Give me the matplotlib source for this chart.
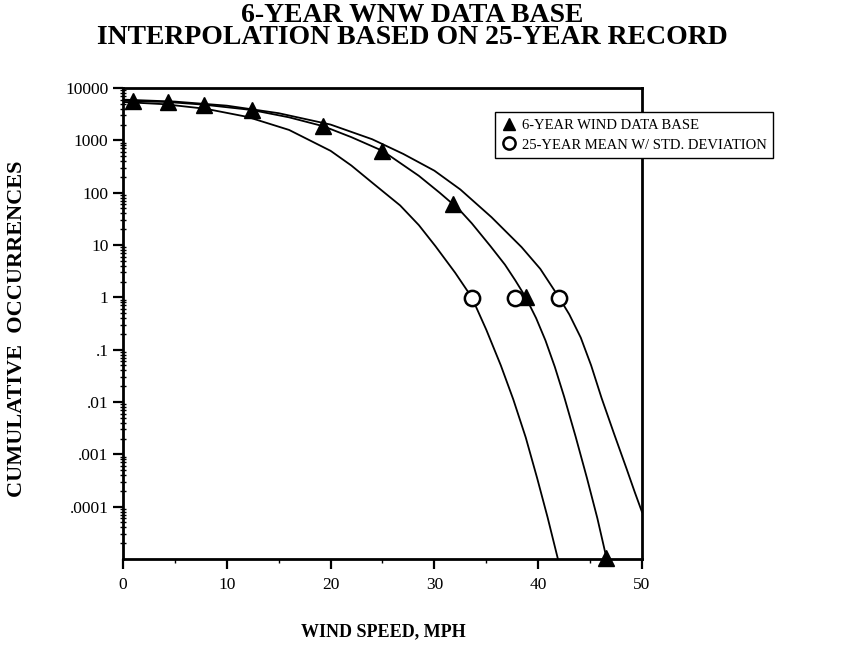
import matplotlib
matplotlib.use("Agg")
import matplotlib.pyplot as plt
from matplotlib.ticker import FixedLocator, NullFormatter

# ---- data ----
tri_x = [1.0, 4.3, 7.8, 12.4, 19.3, 25.0, 31.8, 38.8, 46.5]
tri_y = [5600, 5400, 4800, 3800, 1860, 630, 60, 1.0, 1.05e-5]

circ_x = [33.6, 37.8, 42.0]
circ_y = [0.95, 0.95, 0.95]

left_x = [0, 4, 8, 12, 16, 20, 22, 24.1, 26.7, 28.5, 30.1, 32, 33.6, 35, 36.4, 37.6, 38.8, 39.9, 40.9, 41.9]
left_y = [5400, 4900, 4000, 2800, 1580, 630, 330, 150, 57, 24, 9.5, 2.95, 1.0,
          0.24, 0.05, 0.0112, 0.0021, 3.5e-4, 6.3e-5, 1.0e-5]

mid_x = [0, 1, 4.3, 7.8, 12.4, 16, 19.3, 22, 25, 28.5, 30.5, 31.8, 32.5, 33.6, 35.4, 36.8,
         37.8, 38.8, 39.8, 40.7, 41.6, 42.5, 43.6, 44.7, 45.7, 46.6]
mid_y = [5750, 5600, 5400, 4800, 3800, 2750, 1860, 1150, 630, 210, 100, 60, 45, 26, 9.5, 4.2,
         2.1, 1.0, 0.40, 0.15, 0.047, 0.0126, 0.0022, 3.5e-4, 6.0e-5, 1.0e-5]

right_x = [0, 5, 10, 15, 20, 24, 27, 30, 32.5, 35.5, 38.4, 40.2, 42, 43, 44.1, 45.1, 46.1,
           47.3, 48.5, 49.3, 50]
right_y = [6000, 5500, 4600, 3300, 2000, 1050, 550, 263, 115, 34, 9.1, 3.5, 1.0, 0.47, 0.17,
           0.05, 0.012, 0.0025, 5.4e-4, 1.9e-4, 7.9e-5]

y_ticks = [1e4, 1e3, 1e2, 1e1, 1, 0.1, 0.01, 0.001, 0.0001]
y_ticklabels = ["10000", "1000", "100", "10", "1", ".1", ".01", ".001", ".0001"]
x_ticks = [0, 10, 20, 30, 40, 50]
x_minor = [5, 15, 25, 35, 45]

title_1 = "6-YEAR WNW DATA BASE"
title_2 = "INTERPOLATION BASED ON 25-YEAR RECORD"

plt.rcParams['font.family'] = ['Liberation Serif', 'DejaVu Serif']

W, H = 845, 654
fig = plt.figure(figsize=(W / 100, H / 100), dpi=100)
ax = fig.add_axes([123 / W, 1 - 559 / H, (642 - 123) / W, (559 - 88) / H])

for xs, ys in ((left_x, left_y), (mid_x, mid_y), (right_x, right_y)):
    ax.plot(xs, ys, color='black', lw=1.3, solid_joinstyle='round')
ax.plot(tri_x, tri_y, linestyle='none', marker='^', ms=11, color='black',
        label='6-YEAR WIND DATA BASE', clip_on=False, zorder=5)
ax.plot(circ_x, circ_y, linestyle='none', marker='o', ms=11, mfc='white', mec='black', mew=1.8,
        label='25-YEAR MEAN W/ STD. DEVIATION', zorder=5)

ax.set_yscale('log')
ax.set_ylim(1e-5, 1e4)
ax.set_xlim(0, 50)
ax.yaxis.set_major_locator(FixedLocator(y_ticks))
ax.set_yticklabels(y_ticklabels)
minor = [m * 10.0 ** e for e in range(-5, 4) for m in range(2, 10)]
ax.yaxis.set_minor_locator(FixedLocator(minor))
ax.yaxis.set_minor_formatter(NullFormatter())
ax.xaxis.set_major_locator(FixedLocator(x_ticks))
ax.xaxis.set_minor_locator(FixedLocator(x_minor))

for s in ax.spines.values():
    s.set_linewidth(2.0)
ax.tick_params(axis='y', which='major', direction='out', length=7, width=1.6, labelsize=12.5)
ax.tick_params(axis='y', which='minor', direction='inout', length=5, width=1.0)
ax.tick_params(axis='x', which='major', direction='out', length=7, width=1.6, labelsize=12.5, pad=6)
ax.tick_params(axis='x', which='minor', direction='out', length=3, width=1.0)

leg = ax.legend(loc='upper left', bbox_to_anchor=(495 / W, 1 - 112 / H), bbox_transform=fig.transFigure,
                frameon=True, fancybox=False, edgecolor='black', framealpha=1,
                prop={'size': 10.5}, handletextpad=0.4, borderpad=0.45, labelspacing=0.45,
                handlelength=1.0, markerscale=0.8, borderaxespad=0)
leg.get_frame().set_linewidth(1.0)
leg.set_zorder(10)

fig.text(412 / W, 1 - 15 / H, title_1, ha='center', va='center', fontsize=20, fontweight='bold')
fig.text(412 / W, 1 - 38 / H, title_2, ha='center', va='center', fontsize=20, fontweight='bold')
fig.text(383 / W, 1 - 632 / H, "WIND SPEED, MPH", ha='center', va='center', fontsize=13, fontweight='bold')
fig.text(17 / W, 1 - 329 / H, "CUMULATIVE  OCCURRENCES", ha='center', va='center', rotation=90,
         fontsize=16, fontweight='bold')

fig.savefig("out.png", dpi=100)
